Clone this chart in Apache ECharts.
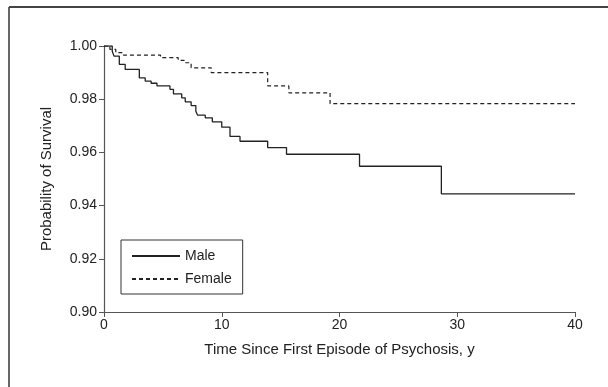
<!DOCTYPE html>
<html>
<head>
<meta charset="utf-8">
<script src="https://cdn.jsdelivr.net/npm/echarts@6/dist/echarts.min.js"></script>
<style>
  html, body { margin: 0; padding: 0; background: #fff; }
  #chart { width: 608px; height: 387px; }
</style>
</head>
<body>
<div id="chart"></div>
<script>
// Kaplan-Meier steps: [time in years, survival after the drop]
var maleSteps = [
  [0, 1.000], [0.7, 0.998], [0.85, 0.9962], [1.3, 0.9931], [1.8, 0.9912],
  [3.0, 0.988], [3.5, 0.9868], [4.0, 0.986], [4.5, 0.985], [5.6, 0.9837],
  [5.9, 0.982], [6.6, 0.9805], [6.9, 0.979], [7.4, 0.9776], [7.8, 0.9755],
  [7.95, 0.974], [8.6, 0.973], [9.2, 0.9715], [10.0, 0.9695], [10.7, 0.966],
  [11.55, 0.9642], [13.9, 0.9618], [15.5, 0.9593], [21.7, 0.9548],
  [28.65, 0.9444], [40, 0.9444]
]
var femaleSteps = [
  [0, 1.000], [0.5, 0.9987], [1.0, 0.9975], [1.65, 0.9966], [4.8, 0.9956],
  [6.3, 0.9946], [6.8, 0.9937], [7.4, 0.9918], [9.1, 0.990], [13.9, 0.985],
  [15.7, 0.9824], [19.2, 0.9783], [40, 0.9783]
]
var seriesNames = ['Male', 'Female']
var xTitle = 'Time Since First Episode of Psychosis, y'
var yTitle = 'Probability of Survival'

var font = 'Liberation Sans, Arial, sans-serif'
var ink = '#222'

var chart = echarts.init(document.getElementById('chart'))
chart.setOption({
  animation: false,
  backgroundColor: '#fff',
  textStyle: { fontFamily: font },
  graphic: [
    { type: 'line', shape: { x1: 9, y1: 7, x2: 9, y2: 387 }, style: { stroke: '#333', lineWidth: 1.5 } },
    { type: 'line', shape: { x1: 9, y1: 7, x2: 608, y2: 7 }, style: { stroke: '#444', lineWidth: 2 } }
  ],
  grid: { left: 104, top: 46, right: 33, bottom: 75 },
  legend: {
    orient: 'vertical',
    left: 121,
    top: 240,
    padding: [9, 11, 8, 10],
    borderColor: '#333',
    borderWidth: 1,
    itemWidth: 48,
    itemHeight: 14,
    itemGap: 9,
    data: seriesNames,
    itemStyle: { opacity: 0 },
    textStyle: { fontFamily: font, fontSize: 14, color: ink }
  },
  xAxis: {
    type: 'value',
    min: 0,
    max: 40,
    interval: 10,
    name: xTitle,
    nameLocation: 'middle',
    nameGap: 30,
    nameTextStyle: { fontFamily: font, fontSize: 15, color: ink },
    axisLine: { lineStyle: { color: '#555', width: 1.2 } },
    axisTick: { length: 5, lineStyle: { color: '#555' } },
    axisLabel: { margin: 6, fontSize: 14, color: ink },
    splitLine: { show: false }
  },
  yAxis: {
    type: 'value',
    min: 0.90,
    max: 1.00,
    interval: 0.02,
    name: yTitle,
    nameLocation: 'middle',
    nameGap: 50,
    nameTextStyle: { fontFamily: font, fontSize: 15, color: ink },
    axisLine: { show: true, lineStyle: { color: '#555', width: 1.2 } },
    axisTick: { show: true, length: 5, lineStyle: { color: '#555' } },
    axisLabel: { margin: 7, fontSize: 14, color: ink, formatter: function (v) { return v.toFixed(2) } },
    splitLine: { show: false }
  },
  series: [
    {
      name: seriesNames[0],
      type: 'line',
      step: 'end',
      symbol: 'none',
      data: maleSteps,
      lineStyle: { color: ink, width: 1.3 },
      itemStyle: { color: ink }
    },
    {
      name: seriesNames[1],
      type: 'line',
      step: 'end',
      symbol: 'none',
      data: femaleSteps,
      lineStyle: { color: ink, width: 1.2, type: [4, 3] },
      itemStyle: { color: ink }
    }
  ]
})
</script>
</body>
</html>
